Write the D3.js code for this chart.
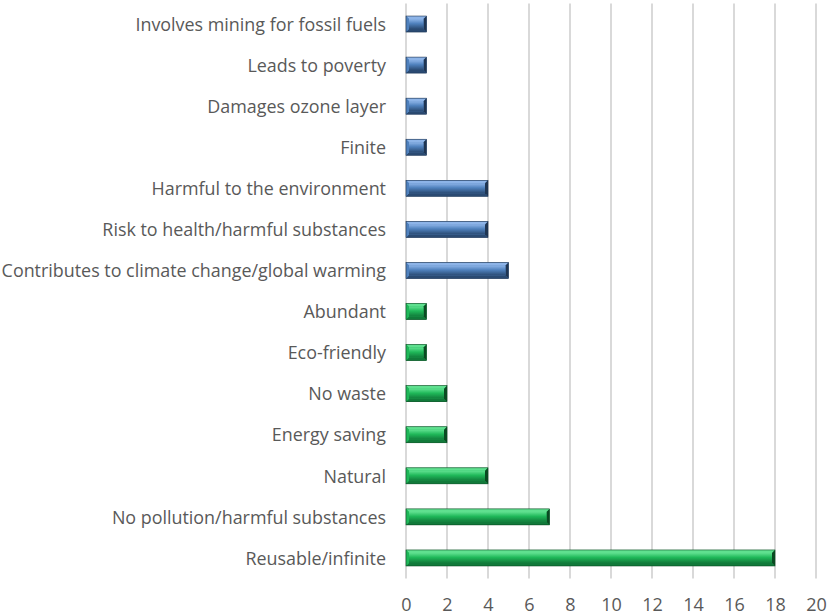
<!DOCTYPE html>
<html>
  <head>
    <meta charset="utf-8">
    <title>Perceptions of energy</title>
    <style>
      body { margin: 0; background: #fff; }
      text { font-family: "Open Sans", sans-serif; fill: #595959; }
    </style>
  </head>
  <body>
    <svg width="829" height="616"></svg>

    <script src="https://d3js.org/d3.v7.min.js"></script>
    <script>

      // top to bottom, as drawn
      var categories = [
        "Involves mining for fossil fuels",
        "Leads to poverty",
        "Damages ozone layer",
        "Finite",
        "Harmful to the environment",
        "Risk to health/harmful substances",
        "Contributes to climate change/global warming",
        "Abundant",
        "Eco-friendly",
        "No waste",
        "Energy saving",
        "Natural",
        "No pollution/harmful substances",
        "Reusable/infinite"
      ];
      var values = [1, 1, 1, 1, 4, 4, 5, 1, 1, 2, 2, 4, 7, 18];
      // "neg" = negative attribute (blue), "pos" = positive attribute (green)
      var groups = ["neg", "neg", "neg", "neg", "neg", "neg", "neg",
                    "pos", "pos", "pos", "pos", "pos", "pos", "pos"];
      var xTicks = [0, 2, 4, 6, 8, 10, 12, 14, 16, 18, 20];

      var palette = {
        neg: { light: "#8db4e8", mid: "#4f81bd", dark: "#2a4a72", edge: "#1f3552" },
        pos: { light: "#5fe08f", mid: "#1fb859", dark: "#117a3a", edge: "#0a4a22" }
      };

      var svg = d3.select("svg"),
        margin = { top: 3.5, right: 13, bottom: 37.5, left: 406 },
        width = +svg.attr("width"),
        height = +svg.attr("height");

      var x = d3.scaleLinear()
        .domain([0, 20])
        .range([margin.left, width - margin.right]);

      var y = d3.scaleBand()
        .domain(categories)
        .range([margin.top, height - margin.bottom])
        .paddingInner(0.61)
        .paddingOuter(0.305);

      var defs = svg.append("defs");
      Object.keys(palette).forEach(function (k) {
        var c = palette[k];
        var g = defs.append("linearGradient")
          .attr("id", "face-" + k)
          .attr("x1", 0).attr("y1", 0).attr("x2", 0).attr("y2", 1);
        g.append("stop").attr("offset", "0%").attr("stop-color", c.light);
        g.append("stop").attr("offset", "45%").attr("stop-color", c.mid);
        g.append("stop").attr("offset", "100%").attr("stop-color", c.dark);
      });

      // gridlines
      svg.append("g")
        .selectAll("line")
        .data(xTicks)
        .enter().append("line")
        .attr("x1", function (d) { return x(d); })
        .attr("x2", function (d) { return x(d); })
        .attr("y1", margin.top)
        .attr("y2", height - margin.bottom)
        .attr("stroke", "#d9d9d9")
        .attr("stroke-width", 2);

      // bars with a bevelled look
      var bar = svg.append("g")
        .selectAll("g")
        .data(categories)
        .enter().append("g")
        .attr("transform", function (d) {
          return "translate(" + x(0) + "," + y(d) + ")";
        });

      var bh = y.bandwidth(), b = 3;

      bar.each(function (d, i) {
        var g = d3.select(this),
          c = palette[groups[i]],
          w = x(values[i]) - x(0);

        g.append("rect")
          .attr("width", w).attr("height", bh)
          .attr("fill", c.mid);
        // top bevel
        g.append("polygon")
          .attr("points", [[0, 0], [w, 0], [w - b, b], [b, b]].join(" "))
          .attr("fill", c.light);
        // bottom bevel
        g.append("polygon")
          .attr("points", [[0, bh], [w, bh], [w - b, bh - b], [b, bh - b]].join(" "))
          .attr("fill", c.dark);
        // left bevel
        g.append("polygon")
          .attr("points", [[0, 0], [b, b], [b, bh - b], [0, bh]].join(" "))
          .attr("fill", c.mid);
        // right bevel
        g.append("polygon")
          .attr("points", [[w, 0], [w - b, b], [w - b, bh - b], [w, bh]].join(" "))
          .attr("fill", c.edge);
        // face
        g.append("rect")
          .attr("x", b).attr("y", b)
          .attr("width", Math.max(0, w - 2 * b)).attr("height", bh - 2 * b)
          .attr("fill", "url(#face-" + groups[i] + ")");
        g.append("rect")
          .attr("width", w).attr("height", bh)
          .attr("fill", "none")
          .attr("stroke", c.edge)
          .attr("stroke-width", 0.6);
      });

      // category axis
      var yAxis = svg.append("g")
        .attr("transform", "translate(" + (margin.left - 20) + ",1)")
        .call(d3.axisLeft(y).tickSize(0).tickPadding(0));
      yAxis.select(".domain").remove();
      yAxis.selectAll("text")
        .style("font-family", "'Open Sans', sans-serif")
        .style("font-size", "17.9px")
        .style("fill", "#595959");

      // value axis
      var xAxis = svg.append("g")
        .attr("transform", "translate(0," + (height - margin.bottom) + ")")
        .call(d3.axisBottom(x).tickValues(xTicks).tickSize(0).tickPadding(20));
      xAxis.select(".domain").remove();
      xAxis.selectAll("text")
        .style("font-family", "'Open Sans', sans-serif")
        .style("font-size", "18px")
        .style("fill", "#595959");

    </script>
  </body>
</html>
